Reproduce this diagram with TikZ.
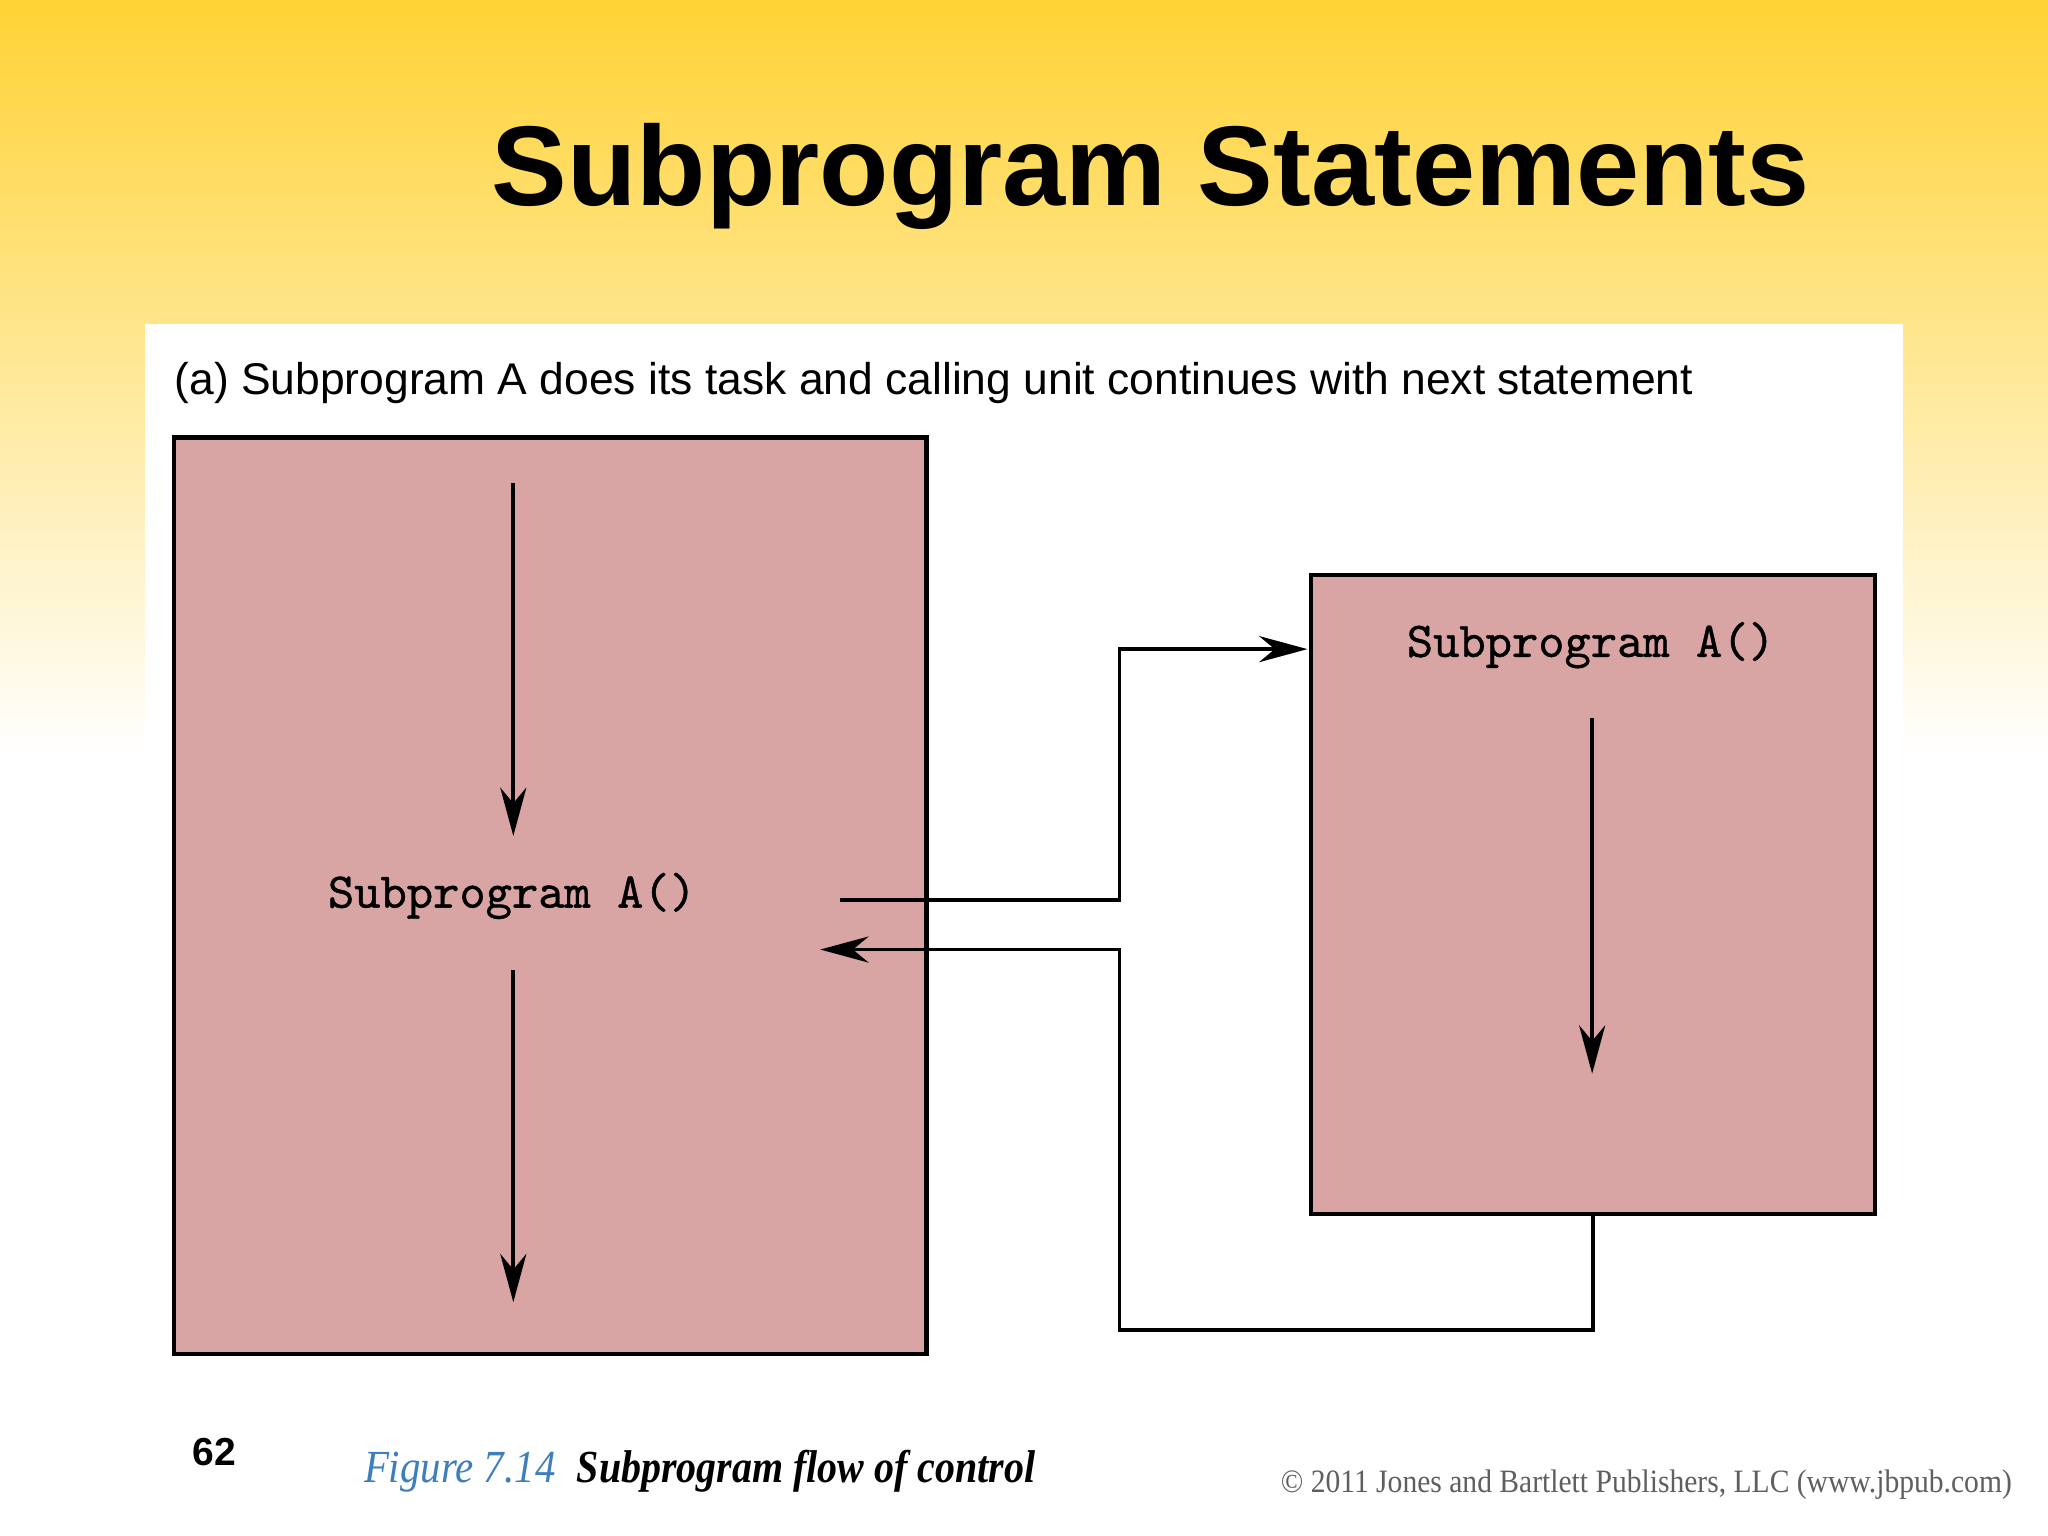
\documentclass[tikz,border=0pt]{standalone}
\usepackage{fontspec}
\usepackage{graphicx}
\setmainfont{Liberation Serif}
\setsansfont{Liberation Sans}
\newfontfamily\codefont{Latin Modern Mono}[FakeBold=0.8]
\usetikzlibrary{arrows.meta,positioning}
\definecolor{slidegold}{RGB}{255,210,52}
\definecolor{boxpink}{RGB}{216,164,164}
\definecolor{figblue}{RGB}{61,126,189}
\definecolor{copygray}{RGB}{95,95,95}
\tikzset{
  unitbox/.style={draw=black, line width=0.9pt, fill=boxpink, inner sep=0pt, outer sep=0pt, anchor=north west},
  codetext/.style={font=\fontsize{10.9}{13}\codefont\bfseries, inner sep=0pt},
  flow/.style={line width=0.8pt, -{Stealth[length=0.37cm,width=0.2cm,inset=0.12cm]}},
}
\begin{document}
\begin{tikzpicture}[x=0.01cm,y=-0.01cm]
	\useasboundingbox (0,0) rectangle (1568,1176);
	\shade[top color=slidegold, bottom color=white] (0,0) rectangle (1568,580);
	\fill[white] (0,579) rectangle (1568,1176);
	\fill[white] (111,248) rectangle (1457,1176);

	\node[font=\fontsize{24.7}{28}\sffamily\bfseries, anchor=base, inner sep=0pt] (title) at (881,157) {Subprogram Statements};
	\node[font=\fontsize{9.67}{12}\sffamily, anchor=base west, inner sep=0pt] (part) at (133,302) {(a) Subprogram A does its task and calling unit continues with next statement};

	\node[unitbox, minimum width=5.76cm, minimum height=7.01cm] (caller) at (133,335) {};
	\node[unitbox, minimum width=4.31cm, minimum height=4.89cm] (subA) at (1004,440) {};

	\node[codetext] (callA) at (392,686) {Subprogram A()};
	\node[codetext] (headA) at (1218,494) {Subprogram A()};

	% flow inside each unit
	\coordinate (c1) at (393,370); \coordinate (c2) at (393,640);
	\coordinate (c3) at (393,743); \coordinate (c4) at (393,997);
	\coordinate (s1) at (1219,550); \coordinate (s2) at (1219,822);
	\foreach \a/\b in {c1/c2,c3/c4,s1/s2}
	\draw [flow] (\a) -- (\b);

	% call and return
	\coordinate (callout) at (643,689);
	\coordinate (bend) at (857,0);
	\coordinate (entry) at (1001,497);
	\coordinate (back) at (628,727);
	\draw [flow] (callout) -- (callout -| bend) -- (bend |- entry) -- (entry);
	\draw [flow] (subA.south) -- ++(0,89) -| (bend |- back) -- (back);

	\node[anchor=base west, inner sep=0pt, font=\fontsize{8.5}{10}\sffamily\bfseries] (page) at (147,1122) {62};
	\node[anchor=base west, inner sep=0pt] (fig) at (278,1135) {\scalebox{0.89}[1]{\fontsize{10}{12}\selectfont\itshape\color{figblue}Figure 7.14}};
	\node[anchor=base west, inner sep=0pt] (figtext) at (441,1135) {\scalebox{0.87}[1]{\fontsize{10}{12}\selectfont\bfseries\itshape Subprogram flow of control}};
	\node[anchor=base west, inner sep=0pt, text=copygray] (copy) at (980,1143) {\scalebox{0.907}[1]{\fontsize{7.1}{9}\selectfont © 2011 Jones and Bartlett Publishers, LLC (www.jbpub.com)}};
\end{tikzpicture}
\end{document}
